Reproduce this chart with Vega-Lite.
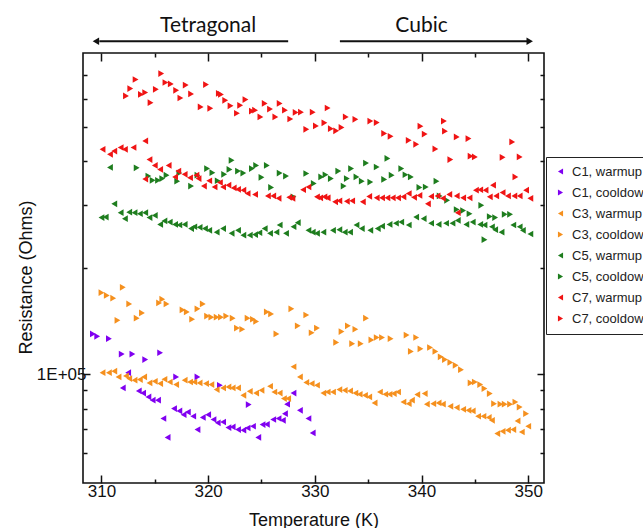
{
  "$schema": "https://vega.github.io/schema/vega-lite/v6.json",
  "width": 461,
  "height": 430,
  "autosize": {"type": "none"},
  "padding": {"left": 83, "top": 53, "right": 99, "bottom": 45},
  "config": {
    "view": {"stroke": "#111", "strokeWidth": 1.6},
    "font": "Liberation Sans",
    "axis": {"domain": false, "grid": false, "labelFont": "Liberation Sans", "titleFont": "Liberation Sans", "labelColor": "#111", "titleColor": "#111", "tickColor": "#111", "tickWidth": 1.5, "titleFontWeight": "normal", "labelFontSize": 17, "titleFontSize": 18, "labelOverlap": false, "labelFlush": false}
  },
  "datasets": {
    "ann": [
      {"phase": "Tetragonal", "labelT": 320.0, "labelR": 927000, "from": 327.5, "to": 309.8, "head": 309.48, "arrowR": 872000},
      {"phase": "Cubic", "labelT": 340.0, "labelR": 927000, "from": 332.35, "to": 350.0, "head": 350.14, "arrowR": 872000}
    ],
    "pts": [
      {"series": "C1, warmup", "T": 312.5, "R": 101000}, {"series": "C1, warmup", "T": 312.0, "R": 91500}, {"series": "C1, warmup", "T": 313.5, "R": 89700}, {"series": "C1, warmup", "T": 313.9, "R": 88500}, {"series": "C1, warmup", "T": 314.4, "R": 86300}, {"series": "C1, warmup", "T": 314.8, "R": 84500}, {"series": "C1, warmup", "T": 315.3, "R": 84500}, {"series": "C1, warmup", "T": 315.8, "R": 75000}, {"series": "C1, warmup", "T": 316.2, "R": 66300}, {"series": "C1, warmup", "T": 316.8, "R": 80000}, {"series": "C1, warmup", "T": 317.3, "R": 78800}, {"series": "C1, warmup", "T": 317.7, "R": 76900}, {"series": "C1, warmup", "T": 318.1, "R": 78200}, {"series": "C1, warmup", "T": 318.6, "R": 76100}, {"series": "C1, warmup", "T": 319.0, "R": 69800}, {"series": "C1, warmup", "T": 319.5, "R": 75500}, {"series": "C1, warmup", "T": 320.0, "R": 76900}, {"series": "C1, warmup", "T": 320.5, "R": 74500}, {"series": "C1, warmup", "T": 320.9, "R": 72900}, {"series": "C1, warmup", "T": 321.4, "R": 73300}, {"series": "C1, warmup", "T": 321.9, "R": 70700}, {"series": "C1, warmup", "T": 322.3, "R": 71000}, {"series": "C1, warmup", "T": 322.8, "R": 69800}, {"series": "C1, warmup", "T": 323.3, "R": 69500}, {"series": "C1, warmup", "T": 323.7, "R": 70500}, {"series": "C1, warmup", "T": 324.2, "R": 71300}, {"series": "C1, warmup", "T": 324.7, "R": 66300}, {"series": "C1, warmup", "T": 325.1, "R": 72100}, {"series": "C1, warmup", "T": 325.5, "R": 72200}, {"series": "C1, warmup", "T": 326.1, "R": 74500}, {"series": "C1, warmup", "T": 326.6, "R": 75000}, {"series": "C1, warmup", "T": 327.0, "R": 74100}, {"series": "C1, warmup", "T": 327.2, "R": 77400}, {"series": "C1, warmup", "T": 327.4, "R": 82300}, {"series": "C1, warmup", "T": 328.0, "R": 88500}, {"series": "C1, warmup", "T": 328.6, "R": 79100}, {"series": "C1, warmup", "T": 329.4, "R": 75000}, {"series": "C1, warmup", "T": 329.8, "R": 68300},
      {"series": "C1, cooldown", "T": 309.2, "R": 130000}, {"series": "C1, cooldown", "T": 309.6, "R": 128000}, {"series": "C1, cooldown", "T": 310.7, "R": 126000}, {"series": "C1, cooldown", "T": 311.9, "R": 114000}, {"series": "C1, cooldown", "T": 312.9, "R": 114000}, {"series": "C1, cooldown", "T": 314.1, "R": 110000}, {"series": "C1, cooldown", "T": 315.5, "R": 115000}, {"series": "C1, cooldown", "T": 317.0, "R": 98300}, {"series": "C1, cooldown", "T": 319.0, "R": 98300}, {"series": "C1, cooldown", "T": 321.1, "R": 93100}, {"series": "C1, cooldown", "T": 323.8, "R": 82100},
      {"series": "C3, warmup", "T": 310.1, "R": 101000}, {"series": "C3, warmup", "T": 310.7, "R": 101000}, {"series": "C3, warmup", "T": 311.2, "R": 102000}, {"series": "C3, warmup", "T": 311.6, "R": 98300}, {"series": "C3, warmup", "T": 312.3, "R": 98900}, {"series": "C3, warmup", "T": 312.6, "R": 97200}, {"series": "C3, warmup", "T": 313.1, "R": 96200}, {"series": "C3, warmup", "T": 313.6, "R": 96600}, {"series": "C3, warmup", "T": 314.0, "R": 98300}, {"series": "C3, warmup", "T": 314.5, "R": 94500}, {"series": "C3, warmup", "T": 315.0, "R": 95500}, {"series": "C3, warmup", "T": 315.5, "R": 94100}, {"series": "C3, warmup", "T": 315.9, "R": 96800}, {"series": "C3, warmup", "T": 316.4, "R": 95100}, {"series": "C3, warmup", "T": 317.0, "R": 93500}, {"series": "C3, warmup", "T": 317.8, "R": 96200}, {"series": "C3, warmup", "T": 318.3, "R": 95100}, {"series": "C3, warmup", "T": 318.7, "R": 95100}, {"series": "C3, warmup", "T": 319.2, "R": 94500}, {"series": "C3, warmup", "T": 319.8, "R": 94100}, {"series": "C3, warmup", "T": 320.3, "R": 93500}, {"series": "C3, warmup", "T": 320.8, "R": 90500}, {"series": "C3, warmup", "T": 321.4, "R": 91500}, {"series": "C3, warmup", "T": 321.9, "R": 92100}, {"series": "C3, warmup", "T": 322.3, "R": 91500}, {"series": "C3, warmup", "T": 322.8, "R": 91500}, {"series": "C3, warmup", "T": 323.3, "R": 87200}, {"series": "C3, warmup", "T": 323.9, "R": 89500}, {"series": "C3, warmup", "T": 324.5, "R": 88500}, {"series": "C3, warmup", "T": 325.0, "R": 90100}, {"series": "C3, warmup", "T": 325.8, "R": 92500}, {"series": "C3, warmup", "T": 326.2, "R": 89100}, {"series": "C3, warmup", "T": 326.7, "R": 88500}, {"series": "C3, warmup", "T": 327.1, "R": 85400}, {"series": "C3, warmup", "T": 327.5, "R": 85400}, {"series": "C3, warmup", "T": 328.0, "R": 105000}, {"series": "C3, warmup", "T": 328.6, "R": 98300}, {"series": "C3, warmup", "T": 329.2, "R": 94800}, {"series": "C3, warmup", "T": 329.7, "R": 94100}, {"series": "C3, warmup", "T": 330.2, "R": 93100}, {"series": "C3, warmup", "T": 330.8, "R": 88500}, {"series": "C3, warmup", "T": 331.2, "R": 89100}, {"series": "C3, warmup", "T": 331.7, "R": 89100}, {"series": "C3, warmup", "T": 332.3, "R": 90500}, {"series": "C3, warmup", "T": 332.8, "R": 90100}, {"series": "C3, warmup", "T": 333.3, "R": 89700}, {"series": "C3, warmup", "T": 333.8, "R": 88500}, {"series": "C3, warmup", "T": 334.2, "R": 87800}, {"series": "C3, warmup", "T": 334.7, "R": 87200}, {"series": "C3, warmup", "T": 335.1, "R": 86300}, {"series": "C3, warmup", "T": 335.6, "R": 83000}, {"series": "C3, warmup", "T": 336.1, "R": 89100}, {"series": "C3, warmup", "T": 336.6, "R": 87800}, {"series": "C3, warmup", "T": 337.0, "R": 87800}, {"series": "C3, warmup", "T": 337.4, "R": 88200}, {"series": "C3, warmup", "T": 337.8, "R": 89100}, {"series": "C3, warmup", "T": 338.3, "R": 83500}, {"series": "C3, warmup", "T": 338.8, "R": 82600}, {"series": "C3, warmup", "T": 339.1, "R": 84500}, {"series": "C3, warmup", "T": 339.6, "R": 87600}, {"series": "C3, warmup", "T": 340.3, "R": 88200}, {"series": "C3, warmup", "T": 340.5, "R": 82300}, {"series": "C3, warmup", "T": 341.1, "R": 82600}, {"series": "C3, warmup", "T": 341.6, "R": 83000}, {"series": "C3, warmup", "T": 342.0, "R": 82300}, {"series": "C3, warmup", "T": 342.7, "R": 81200}, {"series": "C3, warmup", "T": 343.3, "R": 80500}, {"series": "C3, warmup", "T": 343.9, "R": 79600}, {"series": "C3, warmup", "T": 344.4, "R": 79100}, {"series": "C3, warmup", "T": 344.8, "R": 78800}, {"series": "C3, warmup", "T": 345.3, "R": 76100}, {"series": "C3, warmup", "T": 345.8, "R": 76100}, {"series": "C3, warmup", "T": 346.3, "R": 75500}, {"series": "C3, warmup", "T": 346.6, "R": 74100}, {"series": "C3, warmup", "T": 347.1, "R": 68000}, {"series": "C3, warmup", "T": 347.6, "R": 69000}, {"series": "C3, warmup", "T": 348.1, "R": 69500}, {"series": "C3, warmup", "T": 348.6, "R": 69800}, {"series": "C3, warmup", "T": 349.0, "R": 73800}, {"series": "C3, warmup", "T": 349.4, "R": 68700}, {"series": "C3, warmup", "T": 350.0, "R": 71300},
      {"series": "C3, cooldown", "T": 310.0, "R": 170000}, {"series": "C3, cooldown", "T": 310.5, "R": 167000}, {"series": "C3, cooldown", "T": 311.1, "R": 164000}, {"series": "C3, cooldown", "T": 312.0, "R": 176000}, {"series": "C3, cooldown", "T": 311.5, "R": 142000}, {"series": "C3, cooldown", "T": 312.6, "R": 158000}, {"series": "C3, cooldown", "T": 313.3, "R": 144000}, {"series": "C3, cooldown", "T": 313.8, "R": 149000}, {"series": "C3, cooldown", "T": 315.4, "R": 159000}, {"series": "C3, cooldown", "T": 315.7, "R": 163000}, {"series": "C3, cooldown", "T": 316.1, "R": 158000}, {"series": "C3, cooldown", "T": 317.6, "R": 152000}, {"series": "C3, cooldown", "T": 318.0, "R": 150000}, {"series": "C3, cooldown", "T": 318.5, "R": 143000}, {"series": "C3, cooldown", "T": 319.0, "R": 153000}, {"series": "C3, cooldown", "T": 319.5, "R": 158000}, {"series": "C3, cooldown", "T": 319.9, "R": 146000}, {"series": "C3, cooldown", "T": 320.3, "R": 145000}, {"series": "C3, cooldown", "T": 320.8, "R": 145000}, {"series": "C3, cooldown", "T": 321.2, "R": 145000}, {"series": "C3, cooldown", "T": 321.7, "R": 146000}, {"series": "C3, cooldown", "T": 322.3, "R": 144000}, {"series": "C3, cooldown", "T": 322.7, "R": 135000}, {"series": "C3, cooldown", "T": 323.2, "R": 134000}, {"series": "C3, cooldown", "T": 323.7, "R": 144000}, {"series": "C3, cooldown", "T": 324.2, "R": 143000}, {"series": "C3, cooldown", "T": 324.5, "R": 141000}, {"series": "C3, cooldown", "T": 325.5, "R": 150000}, {"series": "C3, cooldown", "T": 325.9, "R": 148000}, {"series": "C3, cooldown", "T": 326.4, "R": 130000}, {"series": "C3, cooldown", "T": 327.8, "R": 153000}, {"series": "C3, cooldown", "T": 328.4, "R": 137000}, {"series": "C3, cooldown", "T": 329.2, "R": 147000}, {"series": "C3, cooldown", "T": 329.7, "R": 131000}, {"series": "C3, cooldown", "T": 330.2, "R": 135000}, {"series": "C3, cooldown", "T": 332.0, "R": 123000}, {"series": "C3, cooldown", "T": 332.5, "R": 132000}, {"series": "C3, cooldown", "T": 333.1, "R": 137000}, {"series": "C3, cooldown", "T": 333.5, "R": 122000}, {"series": "C3, cooldown", "T": 333.8, "R": 134000}, {"series": "C3, cooldown", "T": 334.3, "R": 122000}, {"series": "C3, cooldown", "T": 334.8, "R": 144000}, {"series": "C3, cooldown", "T": 335.3, "R": 125000}, {"series": "C3, cooldown", "T": 335.8, "R": 127000}, {"series": "C3, cooldown", "T": 336.3, "R": 127000}, {"series": "C3, cooldown", "T": 337.1, "R": 126000}, {"series": "C3, cooldown", "T": 338.6, "R": 129000}, {"series": "C3, cooldown", "T": 339.5, "R": 127000}, {"series": "C3, cooldown", "T": 339.0, "R": 116000}, {"series": "C3, cooldown", "T": 339.9, "R": 118000}, {"series": "C3, cooldown", "T": 340.8, "R": 119000}, {"series": "C3, cooldown", "T": 341.3, "R": 116000}, {"series": "C3, cooldown", "T": 341.8, "R": 112000}, {"series": "C3, cooldown", "T": 342.2, "R": 110000}, {"series": "C3, cooldown", "T": 342.7, "R": 108000}, {"series": "C3, cooldown", "T": 343.2, "R": 106000}, {"series": "C3, cooldown", "T": 343.7, "R": 103000}, {"series": "C3, cooldown", "T": 344.6, "R": 94500}, {"series": "C3, cooldown", "T": 345.0, "R": 95100}, {"series": "C3, cooldown", "T": 345.5, "R": 93500}, {"series": "C3, cooldown", "T": 345.9, "R": 91100}, {"series": "C3, cooldown", "T": 346.4, "R": 88200}, {"series": "C3, cooldown", "T": 346.8, "R": 82600}, {"series": "C3, cooldown", "T": 347.4, "R": 82300}, {"series": "C3, cooldown", "T": 347.8, "R": 82300}, {"series": "C3, cooldown", "T": 348.3, "R": 82300}, {"series": "C3, cooldown", "T": 348.8, "R": 83500}, {"series": "C3, cooldown", "T": 349.2, "R": 80800}, {"series": "C3, cooldown", "T": 349.8, "R": 77400},
      {"series": "C5, warmup", "T": 310.0, "R": 277000}, {"series": "C5, warmup", "T": 310.4, "R": 278000}, {"series": "C5, warmup", "T": 310.8, "R": 384000}, {"series": "C5, warmup", "T": 311.2, "R": 303000}, {"series": "C5, warmup", "T": 311.8, "R": 286000}, {"series": "C5, warmup", "T": 312.2, "R": 275000}, {"series": "C5, warmup", "T": 312.6, "R": 287000}, {"series": "C5, warmup", "T": 313.1, "R": 286000}, {"series": "C5, warmup", "T": 313.6, "R": 284000}, {"series": "C5, warmup", "T": 314.1, "R": 286000}, {"series": "C5, warmup", "T": 314.5, "R": 277000}, {"series": "C5, warmup", "T": 315.0, "R": 281000}, {"series": "C5, warmup", "T": 315.5, "R": 265000}, {"series": "C5, warmup", "T": 315.9, "R": 271000}, {"series": "C5, warmup", "T": 316.4, "R": 269000}, {"series": "C5, warmup", "T": 316.9, "R": 265000}, {"series": "C5, warmup", "T": 317.3, "R": 264000}, {"series": "C5, warmup", "T": 317.8, "R": 265000}, {"series": "C5, warmup", "T": 318.4, "R": 258000}, {"series": "C5, warmup", "T": 318.7, "R": 261000}, {"series": "C5, warmup", "T": 319.2, "R": 260000}, {"series": "C5, warmup", "T": 319.7, "R": 258000}, {"series": "C5, warmup", "T": 320.1, "R": 255000}, {"series": "C5, warmup", "T": 320.8, "R": 252000}, {"series": "C5, warmup", "T": 321.4, "R": 258000}, {"series": "C5, warmup", "T": 322.2, "R": 250000}, {"series": "C5, warmup", "T": 322.8, "R": 255000}, {"series": "C5, warmup", "T": 323.3, "R": 247000}, {"series": "C5, warmup", "T": 323.9, "R": 247000}, {"series": "C5, warmup", "T": 324.4, "R": 248000}, {"series": "C5, warmup", "T": 324.8, "R": 251000}, {"series": "C5, warmup", "T": 325.3, "R": 258000}, {"series": "C5, warmup", "T": 325.8, "R": 250000}, {"series": "C5, warmup", "T": 326.4, "R": 252000}, {"series": "C5, warmup", "T": 326.7, "R": 264000}, {"series": "C5, warmup", "T": 327.3, "R": 250000}, {"series": "C5, warmup", "T": 328.0, "R": 261000}, {"series": "C5, warmup", "T": 328.4, "R": 268000}, {"series": "C5, warmup", "T": 329.4, "R": 255000}, {"series": "C5, warmup", "T": 329.8, "R": 252000}, {"series": "C5, warmup", "T": 330.2, "R": 250000}, {"series": "C5, warmup", "T": 330.8, "R": 252000}, {"series": "C5, warmup", "T": 331.7, "R": 255000}, {"series": "C5, warmup", "T": 332.3, "R": 256000}, {"series": "C5, warmup", "T": 332.8, "R": 252000}, {"series": "C5, warmup", "T": 333.3, "R": 252000}, {"series": "C5, warmup", "T": 333.9, "R": 264000}, {"series": "C5, warmup", "T": 334.4, "R": 258000}, {"series": "C5, warmup", "T": 335.2, "R": 255000}, {"series": "C5, warmup", "T": 335.9, "R": 258000}, {"series": "C5, warmup", "T": 336.3, "R": 262000}, {"series": "C5, warmup", "T": 337.0, "R": 265000}, {"series": "C5, warmup", "T": 337.6, "R": 267000}, {"series": "C5, warmup", "T": 338.1, "R": 269000}, {"series": "C5, warmup", "T": 338.8, "R": 264000}, {"series": "C5, warmup", "T": 339.5, "R": 278000}, {"series": "C5, warmup", "T": 340.2, "R": 275000}, {"series": "C5, warmup", "T": 340.9, "R": 267000}, {"series": "C5, warmup", "T": 341.6, "R": 265000}, {"series": "C5, warmup", "T": 342.3, "R": 267000}, {"series": "C5, warmup", "T": 342.9, "R": 267000}, {"series": "C5, warmup", "T": 343.4, "R": 272000}, {"series": "C5, warmup", "T": 344.2, "R": 265000}, {"series": "C5, warmup", "T": 344.8, "R": 269000}, {"series": "C5, warmup", "T": 345.5, "R": 265000}, {"series": "C5, warmup", "T": 345.9, "R": 264000}, {"series": "C5, warmup", "T": 346.6, "R": 261000}, {"series": "C5, warmup", "T": 346.9, "R": 256000}, {"series": "C5, warmup", "T": 347.5, "R": 252000}, {"series": "C5, warmup", "T": 348.6, "R": 264000}, {"series": "C5, warmup", "T": 349.2, "R": 261000}, {"series": "C5, warmup", "T": 349.5, "R": 255000}, {"series": "C5, warmup", "T": 350.2, "R": 249000},
      {"series": "C5, cooldown", "T": 313.3, "R": 383000}, {"series": "C5, cooldown", "T": 314.4, "R": 363000}, {"series": "C5, cooldown", "T": 314.8, "R": 353000}, {"series": "C5, cooldown", "T": 315.3, "R": 353000}, {"series": "C5, cooldown", "T": 315.7, "R": 357000}, {"series": "C5, cooldown", "T": 316.1, "R": 365000}, {"series": "C5, cooldown", "T": 317.1, "R": 351000}, {"series": "C5, cooldown", "T": 317.3, "R": 370000}, {"series": "C5, cooldown", "T": 318.4, "R": 340000}, {"series": "C5, cooldown", "T": 319.0, "R": 365000}, {"series": "C5, cooldown", "T": 319.9, "R": 381000}, {"series": "C5, cooldown", "T": 320.4, "R": 371000}, {"series": "C5, cooldown", "T": 320.9, "R": 352000}, {"series": "C5, cooldown", "T": 321.5, "R": 367000}, {"series": "C5, cooldown", "T": 322.0, "R": 379000}, {"series": "C5, cooldown", "T": 322.2, "R": 402000}, {"series": "C5, cooldown", "T": 322.8, "R": 375000}, {"series": "C5, cooldown", "T": 323.3, "R": 370000}, {"series": "C5, cooldown", "T": 324.1, "R": 381000}, {"series": "C5, cooldown", "T": 324.5, "R": 389000}, {"series": "C5, cooldown", "T": 325.0, "R": 360000}, {"series": "C5, cooldown", "T": 325.5, "R": 389000}, {"series": "C5, cooldown", "T": 325.9, "R": 337000}, {"series": "C5, cooldown", "T": 326.7, "R": 370000}, {"series": "C5, cooldown", "T": 327.3, "R": 363000}, {"series": "C5, cooldown", "T": 328.0, "R": 317000}, {"series": "C5, cooldown", "T": 329.2, "R": 369000}, {"series": "C5, cooldown", "T": 329.9, "R": 346000}, {"series": "C5, cooldown", "T": 330.6, "R": 361000}, {"series": "C5, cooldown", "T": 331.0, "R": 366000}, {"series": "C5, cooldown", "T": 331.5, "R": 357000}, {"series": "C5, cooldown", "T": 332.2, "R": 375000}, {"series": "C5, cooldown", "T": 332.7, "R": 340000}, {"series": "C5, cooldown", "T": 333.0, "R": 357000}, {"series": "C5, cooldown", "T": 333.4, "R": 381000}, {"series": "C5, cooldown", "T": 333.9, "R": 361000}, {"series": "C5, cooldown", "T": 334.4, "R": 351000}, {"series": "C5, cooldown", "T": 334.8, "R": 395000}, {"series": "C5, cooldown", "T": 335.2, "R": 349000}, {"series": "C5, cooldown", "T": 335.8, "R": 385000}, {"series": "C5, cooldown", "T": 336.5, "R": 355000}, {"series": "C5, cooldown", "T": 336.8, "R": 407000}, {"series": "C5, cooldown", "T": 337.2, "R": 365000}, {"series": "C5, cooldown", "T": 338.1, "R": 381000}, {"series": "C5, cooldown", "T": 338.5, "R": 366000}, {"series": "C5, cooldown", "T": 339.0, "R": 361000}, {"series": "C5, cooldown", "T": 339.8, "R": 337000}, {"series": "C5, cooldown", "T": 340.4, "R": 338000}, {"series": "C5, cooldown", "T": 341.4, "R": 351000}, {"series": "C5, cooldown", "T": 341.7, "R": 319000}, {"series": "C5, cooldown", "T": 342.4, "R": 310000}, {"series": "C5, cooldown", "T": 343.3, "R": 292000}, {"series": "C5, cooldown", "T": 343.9, "R": 290000}, {"series": "C5, cooldown", "T": 344.5, "R": 284000}, {"series": "C5, cooldown", "T": 345.6, "R": 300000}, {"series": "C5, cooldown", "T": 345.9, "R": 240000}, {"series": "C5, cooldown", "T": 346.4, "R": 279000}, {"series": "C5, cooldown", "T": 346.9, "R": 277000}, {"series": "C5, cooldown", "T": 347.8, "R": 283000}, {"series": "C5, cooldown", "T": 348.3, "R": 283000},
      {"series": "C7, warmup", "T": 310.1, "R": 432000}, {"series": "C7, warmup", "T": 310.8, "R": 418000}, {"series": "C7, warmup", "T": 311.2, "R": 427000}, {"series": "C7, warmup", "T": 311.8, "R": 437000}, {"series": "C7, warmup", "T": 312.2, "R": 432000}, {"series": "C7, warmup", "T": 313.0, "R": 437000}, {"series": "C7, warmup", "T": 314.1, "R": 456000}, {"series": "C7, warmup", "T": 314.5, "R": 404000}, {"series": "C7, warmup", "T": 315.0, "R": 389000}, {"series": "C7, warmup", "T": 315.5, "R": 379000}, {"series": "C7, warmup", "T": 316.3, "R": 389000}, {"series": "C7, warmup", "T": 314.1, "R": 356000}, {"series": "C7, warmup", "T": 316.9, "R": 361000}, {"series": "C7, warmup", "T": 317.2, "R": 375000}, {"series": "C7, warmup", "T": 317.8, "R": 367000}, {"series": "C7, warmup", "T": 318.3, "R": 359000}, {"series": "C7, warmup", "T": 318.9, "R": 365000}, {"series": "C7, warmup", "T": 319.1, "R": 357000}, {"series": "C7, warmup", "T": 319.6, "R": 340000}, {"series": "C7, warmup", "T": 320.1, "R": 352000}, {"series": "C7, warmup", "T": 320.6, "R": 338000}, {"series": "C7, warmup", "T": 321.1, "R": 348000}, {"series": "C7, warmup", "T": 321.4, "R": 338000}, {"series": "C7, warmup", "T": 321.9, "R": 342000}, {"series": "C7, warmup", "T": 322.4, "R": 336000}, {"series": "C7, warmup", "T": 322.8, "R": 333000}, {"series": "C7, warmup", "T": 323.3, "R": 331000}, {"series": "C7, warmup", "T": 323.7, "R": 324000}, {"series": "C7, warmup", "T": 324.4, "R": 322000}, {"series": "C7, warmup", "T": 325.6, "R": 319000}, {"series": "C7, warmup", "T": 326.1, "R": 319000}, {"series": "C7, warmup", "T": 326.6, "R": 314000}, {"series": "C7, warmup", "T": 327.6, "R": 316000}, {"series": "C7, warmup", "T": 327.9, "R": 314000}, {"series": "C7, warmup", "T": 328.9, "R": 332000}, {"series": "C7, warmup", "T": 329.4, "R": 338000}, {"series": "C7, warmup", "T": 330.2, "R": 317000}, {"series": "C7, warmup", "T": 330.5, "R": 315000}, {"series": "C7, warmup", "T": 330.9, "R": 317000}, {"series": "C7, warmup", "T": 331.2, "R": 315000}, {"series": "C7, warmup", "T": 331.9, "R": 307000}, {"series": "C7, warmup", "T": 332.3, "R": 309000}, {"series": "C7, warmup", "T": 333.0, "R": 308000}, {"series": "C7, warmup", "T": 333.5, "R": 309000}, {"series": "C7, warmup", "T": 334.5, "R": 307000}, {"series": "C7, warmup", "T": 335.1, "R": 318000}, {"series": "C7, warmup", "T": 335.8, "R": 315000}, {"series": "C7, warmup", "T": 336.3, "R": 315000}, {"series": "C7, warmup", "T": 336.8, "R": 315000}, {"series": "C7, warmup", "T": 337.3, "R": 315000}, {"series": "C7, warmup", "T": 337.8, "R": 315000}, {"series": "C7, warmup", "T": 338.3, "R": 317000}, {"series": "C7, warmup", "T": 338.8, "R": 324000}, {"series": "C7, warmup", "T": 339.3, "R": 316000}, {"series": "C7, warmup", "T": 339.8, "R": 320000}, {"series": "C7, warmup", "T": 340.6, "R": 303000}, {"series": "C7, warmup", "T": 340.9, "R": 318000}, {"series": "C7, warmup", "T": 341.5, "R": 319000}, {"series": "C7, warmup", "T": 342.0, "R": 314000}, {"series": "C7, warmup", "T": 342.6, "R": 322000}, {"series": "C7, warmup", "T": 343.3, "R": 319000}, {"series": "C7, warmup", "T": 343.4, "R": 286000}, {"series": "C7, warmup", "T": 343.9, "R": 315000}, {"series": "C7, warmup", "T": 344.5, "R": 315000}, {"series": "C7, warmup", "T": 345.1, "R": 331000}, {"series": "C7, warmup", "T": 345.5, "R": 332000}, {"series": "C7, warmup", "T": 346.0, "R": 331000}, {"series": "C7, warmup", "T": 346.7, "R": 342000}, {"series": "C7, warmup", "T": 346.4, "R": 317000}, {"series": "C7, warmup", "T": 347.0, "R": 319000}, {"series": "C7, warmup", "T": 347.6, "R": 326000}, {"series": "C7, warmup", "T": 348.1, "R": 319000}, {"series": "C7, warmup", "T": 348.7, "R": 319000}, {"series": "C7, warmup", "T": 349.2, "R": 319000}, {"series": "C7, warmup", "T": 349.8, "R": 331000}, {"series": "C7, warmup", "T": 350.2, "R": 314000},
      {"series": "C7, cooldown", "T": 312.3, "R": 611000}, {"series": "C7, cooldown", "T": 312.7, "R": 641000}, {"series": "C7, cooldown", "T": 313.2, "R": 680000}, {"series": "C7, cooldown", "T": 313.7, "R": 617000}, {"series": "C7, cooldown", "T": 314.1, "R": 625000}, {"series": "C7, cooldown", "T": 314.6, "R": 585000}, {"series": "C7, cooldown", "T": 315.1, "R": 638000}, {"series": "C7, cooldown", "T": 315.6, "R": 707000}, {"series": "C7, cooldown", "T": 316.0, "R": 667000}, {"series": "C7, cooldown", "T": 316.5, "R": 661000}, {"series": "C7, cooldown", "T": 317.0, "R": 634000}, {"series": "C7, cooldown", "T": 317.4, "R": 603000}, {"series": "C7, cooldown", "T": 317.9, "R": 656000}, {"series": "C7, cooldown", "T": 318.4, "R": 619000}, {"series": "C7, cooldown", "T": 319.3, "R": 569000}, {"series": "C7, cooldown", "T": 319.8, "R": 658000}, {"series": "C7, cooldown", "T": 320.2, "R": 564000}, {"series": "C7, cooldown", "T": 321.0, "R": 621000}, {"series": "C7, cooldown", "T": 321.2, "R": 617000}, {"series": "C7, cooldown", "T": 321.6, "R": 594000}, {"series": "C7, cooldown", "T": 322.1, "R": 573000}, {"series": "C7, cooldown", "T": 322.7, "R": 546000}, {"series": "C7, cooldown", "T": 323.0, "R": 575000}, {"series": "C7, cooldown", "T": 323.5, "R": 597000}, {"series": "C7, cooldown", "T": 324.1, "R": 554000}, {"series": "C7, cooldown", "T": 324.4, "R": 557000}, {"series": "C7, cooldown", "T": 324.9, "R": 533000}, {"series": "C7, cooldown", "T": 325.3, "R": 582000}, {"series": "C7, cooldown", "T": 325.8, "R": 561000}, {"series": "C7, cooldown", "T": 326.3, "R": 533000}, {"series": "C7, cooldown", "T": 326.7, "R": 582000}, {"series": "C7, cooldown", "T": 327.2, "R": 557000}, {"series": "C7, cooldown", "T": 327.7, "R": 526000}, {"series": "C7, cooldown", "T": 328.2, "R": 549000}, {"series": "C7, cooldown", "T": 328.7, "R": 550000}, {"series": "C7, cooldown", "T": 329.2, "R": 492000}, {"series": "C7, cooldown", "T": 329.8, "R": 550000}, {"series": "C7, cooldown", "T": 330.1, "R": 503000}, {"series": "C7, cooldown", "T": 330.9, "R": 513000}, {"series": "C7, cooldown", "T": 331.2, "R": 565000}, {"series": "C7, cooldown", "T": 331.5, "R": 494000}, {"series": "C7, cooldown", "T": 332.0, "R": 487000}, {"series": "C7, cooldown", "T": 332.5, "R": 498000}, {"series": "C7, cooldown", "T": 332.9, "R": 533000}, {"series": "C7, cooldown", "T": 333.8, "R": 525000}, {"series": "C7, cooldown", "T": 335.2, "R": 519000}, {"series": "C7, cooldown", "T": 335.8, "R": 514000}, {"series": "C7, cooldown", "T": 336.5, "R": 479000}, {"series": "C7, cooldown", "T": 337.1, "R": 470000}, {"series": "C7, cooldown", "T": 338.8, "R": 458000}, {"series": "C7, cooldown", "T": 339.5, "R": 446000}, {"series": "C7, cooldown", "T": 339.9, "R": 502000}, {"series": "C7, cooldown", "T": 340.3, "R": 477000}, {"series": "C7, cooldown", "T": 341.3, "R": 433000}, {"series": "C7, cooldown", "T": 342.1, "R": 519000}, {"series": "C7, cooldown", "T": 342.2, "R": 486000}, {"series": "C7, cooldown", "T": 342.7, "R": 404000}, {"series": "C7, cooldown", "T": 343.3, "R": 468000}, {"series": "C7, cooldown", "T": 344.4, "R": 463000}, {"series": "C7, cooldown", "T": 344.6, "R": 413000}, {"series": "C7, cooldown", "T": 345.0, "R": 411000}, {"series": "C7, cooldown", "T": 347.6, "R": 410000}, {"series": "C7, cooldown", "T": 348.5, "R": 453000}, {"series": "C7, cooldown", "T": 348.8, "R": 361000}, {"series": "C7, cooldown", "T": 349.2, "R": 411000}
    ]
  },
  "layer": [
    {
      "data": {"name": "pts"},
      "mark": {"type": "point", "filled": true, "opacity": 1, "size": 45},
      "encoding": {
        "x": {"field": "T", "type": "quantitative", "scale": {"domain": [308.27, 351.48], "nice": false, "zero": false},
          "axis": {"orient": "bottom", "values": [310, 315, 320, 325, 330, 335, 340, 345, 350], "labelExpr": "datum.value % 10 == 0 ? datum.label : ''", "tickSize": {"condition": {"test": "datum.value % 10 == 0", "value": -8}, "value": -4}, "labelBaseline": "alphabetic", "labelPadding": 21, "title": "Temperature (K)", "titleBaseline": "alphabetic", "titleY": 42}},
        "y": {"field": "R", "type": "quantitative", "scale": {"type": "log", "domain": [49300, 808000], "nice": false},
          "axis": {"orient": "left", "values": [60000, 70000, 80000, 90000, 100000, 200000, 300000, 400000, 500000, 600000, 700000], "labelExpr": "datum.value == 100000 ? '1E+05' : ''", "tickSize": {"condition": {"test": "datum.value == 100000", "value": -7}, "value": -4}, "labelPadding": 4, "title": "Resistance (Ohms)", "titleX": -48, "titleY": 224}},
        "color": {"field": "series", "type": "nominal",
          "scale": {"domain": ["C1, warmup", "C1, cooldown", "C3, warmup", "C3, cooldown", "C5, warmup", "C5, cooldown", "C7, warmup", "C7, cooldown"], "range": ["#8000F0", "#8000F0", "#F5901E", "#F5901E", "#1E7D1E", "#1E7D1E", "#F01414", "#F01414"]},
          "legend": {"title": null, "orient": "none", "legendX": 463, "legendY": 104, "strokeColor": "#222", "fillColor": "white", "padding": 8, "labelFont": "Liberation Sans", "labelFontSize": 13, "labelColor": "#222", "symbolSize": 35, "rowPadding": 7, "labelOffset": 5}},
        "shape": {"field": "series", "type": "nominal",
          "scale": {"domain": ["C1, warmup", "C1, cooldown", "C3, warmup", "C3, cooldown", "C5, warmup", "C5, cooldown", "C7, warmup", "C7, cooldown"], "range": ["triangle-left", "triangle-right", "triangle-left", "triangle-right", "triangle-left", "triangle-right", "triangle-left", "triangle-right"]},
          "legend": {"title": null, "orient": "none", "legendX": 463, "legendY": 104, "strokeColor": "#222", "fillColor": "white", "padding": 8, "labelFont": "Liberation Sans", "labelFontSize": 13, "labelColor": "#222", "symbolSize": 35, "rowPadding": 7, "labelOffset": 5}}
      }
    },
    {
      "data": {"name": "ann"},
      "mark": {"type": "text", "font": "Lato", "fontSize": 21, "color": "#111", "align": "center", "baseline": "alphabetic"},
      "encoding": {
        "x": {"field": "labelT", "type": "quantitative", "axis": {"orient": "top", "values": [310, 315, 320, 325, 330, 335, 340, 345, 350], "labels": false, "title": null, "tickSize": {"condition": {"test": "datum.value % 10 == 0", "value": -8}, "value": -4}}},
        "y": {"field": "labelR", "type": "quantitative", "axis": {"orient": "right", "values": [60000, 70000, 80000, 90000, 100000, 200000, 300000, 400000, 500000, 600000, 700000], "labels": false, "title": null, "tickSize": {"condition": {"test": "datum.value == 100000", "value": -7}, "value": -4}}},
        "text": {"field": "phase"}
      }
    },
    {
      "data": {"name": "ann"},
      "mark": {"type": "rule", "color": "#111", "strokeWidth": 2},
      "encoding": {
        "x": {"field": "from", "type": "quantitative", "axis": null},
        "x2": {"field": "to"},
        "y": {"field": "arrowR", "type": "quantitative", "axis": null}
      }
    },
    {
      "data": {"name": "ann"},
      "transform": [{"filter": "datum.phase == 'Tetragonal'"}],
      "mark": {"type": "point", "shape": "triangle-left", "filled": true, "color": "#111", "opacity": 1, "size": 55},
      "encoding": {
        "x": {"field": "head", "type": "quantitative", "axis": null},
        "y": {"field": "arrowR", "type": "quantitative", "axis": null}
      }
    },
    {
      "data": {"name": "ann"},
      "transform": [{"filter": "datum.phase == 'Cubic'"}],
      "mark": {"type": "point", "shape": "triangle-right", "filled": true, "color": "#111", "opacity": 1, "size": 55},
      "encoding": {
        "x": {"field": "head", "type": "quantitative", "axis": null},
        "y": {"field": "arrowR", "type": "quantitative", "axis": null}
      }
    }
  ],
  "resolve": {"axis": {"x": "independent", "y": "independent"}}
}
